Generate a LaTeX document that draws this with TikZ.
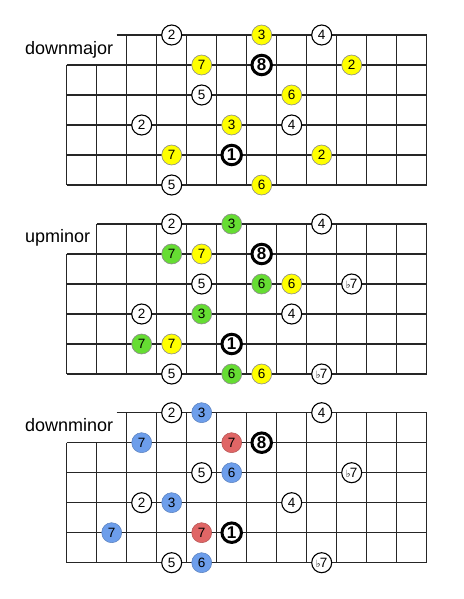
\documentclass[tikz,border=0pt]{standalone}
\usepackage{fontspec}
\setmainfont{Liberation Sans}
\newfontfamily\symfont{DejaVu Sans}
\definecolor{notey}{HTML}{FFFF00}
\definecolor{noteg}{HTML}{66DD33}
\definecolor{noteb}{HTML}{6D9EEB}
\definecolor{noter}{HTML}{E06666}
\definecolor{rimgray}{HTML}{8A8A8A}
\newcommand\fnote[5][]{\node[#1] (#2) at ({51.7+30*#3},{30*#4}) {#5};}
\newcommand\flatseven{{\symfont\fontsize{10}{10}\selectfont ♭}\kern-0.8pt 7}
\tikzset{
  gridline/.style={draw=black!85, line width=1.1pt},
  plain/.style={circle, minimum size=20pt, inner sep=0pt, draw=black, line width=1.1pt, fill=white, font=\fontsize{13.5}{13.5}\selectfont},
  ynote/.style={plain, fill=notey, draw=rimgray, line width=0.6pt},
  gnote/.style={plain, fill=noteg, draw=rimgray, line width=0.6pt},
  bnote/.style={plain, fill=noteb, draw=noteb!80!black, line width=0.5pt},
  rnote/.style={plain, fill=noter, draw=noter!80!black, line width=0.5pt},
  rootnote/.style={plain, minimum size=19.5pt, line width=3pt, font=\fontsize{17}{17}\selectfont\bfseries},
  title/.style={anchor=base west, inner sep=0pt, font=\fontsize{18}{18}\selectfont}
}
\begin{document}
\begin{tikzpicture}[x=1pt,y=-1pt]
\useasboundingbox (0,0) rectangle (463,599);
% ---------- downmajor ----------
\begin{scope}[shift={(0,35)}]
  \draw[gridline] (116.7,0) -- (426.7,0);
  \foreach \k in {1,...,5} \draw[gridline] (66.7,30*\k) -- (426.7,30*\k);
  \foreach \j in {0,1} \draw[gridline] (66.7+30*\j,30) -- (66.7+30*\j,150);
  \foreach \j in {2,...,12} \draw[gridline] (66.7+30*\j,0) -- (66.7+30*\j,150);
  \node[title] (labA) at (25,19.5) {downmajor};
  \fnote[plain]{A01}{4}{0}{2}
  \fnote[ynote]{A02}{7}{0}{3}
  \fnote[plain]{A03}{9}{0}{4}
  \fnote[ynote]{A11}{5}{1}{7}
  \fnote[rootnote]{A12}{7}{1}{8}
  \fnote[ynote]{A13}{10}{1}{2}
  \fnote[plain]{A21}{5}{2}{5}
  \fnote[ynote]{A22}{8}{2}{6}
  \fnote[plain]{A31}{3}{3}{2}
  \fnote[ynote]{A32}{6}{3}{3}
  \fnote[plain]{A33}{8}{3}{4}
  \fnote[ynote]{A41}{4}{4}{7}
  \fnote[rootnote]{A42}{6}{4}{1}
  \fnote[ynote]{A43}{9}{4}{2}
  \fnote[plain]{A51}{4}{5}{5}
  \fnote[ynote]{A52}{7}{5}{6}
\end{scope}
% ---------- upminor ----------
\begin{scope}[shift={(0,224)}]
  \draw[gridline] (96.7,0) -- (426.7,0);
  \foreach \k in {1,...,5} \draw[gridline] (66.7,30*\k) -- (426.7,30*\k);
  \draw[gridline] (66.7,30) -- (66.7,150);
  \foreach \j in {1,...,12} \draw[gridline] (66.7+30*\j,0) -- (66.7+30*\j,150);
  \node[title] (labB) at (25,18.7) {upminor};
  \fnote[plain]{B01}{4}{0}{2}
  \fnote[gnote]{B02}{6}{0}{3}
  \fnote[plain]{B03}{9}{0}{4}
  \fnote[gnote]{B11}{4}{1}{7}
  \fnote[ynote]{B12}{5}{1}{7}
  \fnote[rootnote]{B13}{7}{1}{8}
  \fnote[plain]{B21}{5}{2}{5}
  \fnote[gnote]{B22}{7}{2}{6}
  \fnote[ynote]{B23}{8}{2}{6}
  \fnote[plain]{B24}{10}{2}{\flatseven}
  \fnote[plain]{B31}{3}{3}{2}
  \fnote[gnote]{B32}{5}{3}{3}
  \fnote[plain]{B33}{8}{3}{4}
  \fnote[gnote]{B41}{3}{4}{7}
  \fnote[ynote]{B42}{4}{4}{7}
  \fnote[rootnote]{B43}{6}{4}{1}
  \fnote[plain]{B51}{4}{5}{5}
  \fnote[gnote]{B52}{6}{5}{6}
  \fnote[ynote]{B53}{7}{5}{6}
  \fnote[plain]{B54}{9}{5}{\flatseven}
\end{scope}
% ---------- downminor ----------
\begin{scope}[shift={(0,412.7)}]
  \draw[gridline] (116.7,0) -- (426.7,0);
  \foreach \k in {1,...,5} \draw[gridline] (66.7,30*\k) -- (426.7,30*\k);
  \foreach \j in {0,1} \draw[gridline] (66.7+30*\j,30) -- (66.7+30*\j,150);
  \foreach \j in {2,...,12} \draw[gridline] (66.7+30*\j,0) -- (66.7+30*\j,150);
  \node[title] (labC) at (25,18.3) {downminor};
  \fnote[plain]{C01}{4}{0}{2}
  \fnote[bnote]{C02}{5}{0}{3}
  \fnote[plain]{C03}{9}{0}{4}
  \fnote[bnote]{C11}{3}{1}{7}
  \fnote[rnote]{C12}{6}{1}{7}
  \fnote[rootnote]{C13}{7}{1}{8}
  \fnote[plain]{C21}{5}{2}{5}
  \fnote[bnote]{C22}{6}{2}{6}
  \fnote[plain]{C23}{10}{2}{\flatseven}
  \fnote[plain]{C31}{3}{3}{2}
  \fnote[bnote]{C32}{4}{3}{3}
  \fnote[plain]{C33}{8}{3}{4}
  \fnote[bnote]{C41}{2}{4}{7}
  \fnote[rnote]{C42}{5}{4}{7}
  \fnote[rootnote]{C43}{6}{4}{1}
  \fnote[plain]{C51}{4}{5}{5}
  \fnote[bnote]{C52}{5}{5}{6}
  \fnote[plain]{C53}{9}{5}{\flatseven}
\end{scope}
\end{tikzpicture}
\end{document}
